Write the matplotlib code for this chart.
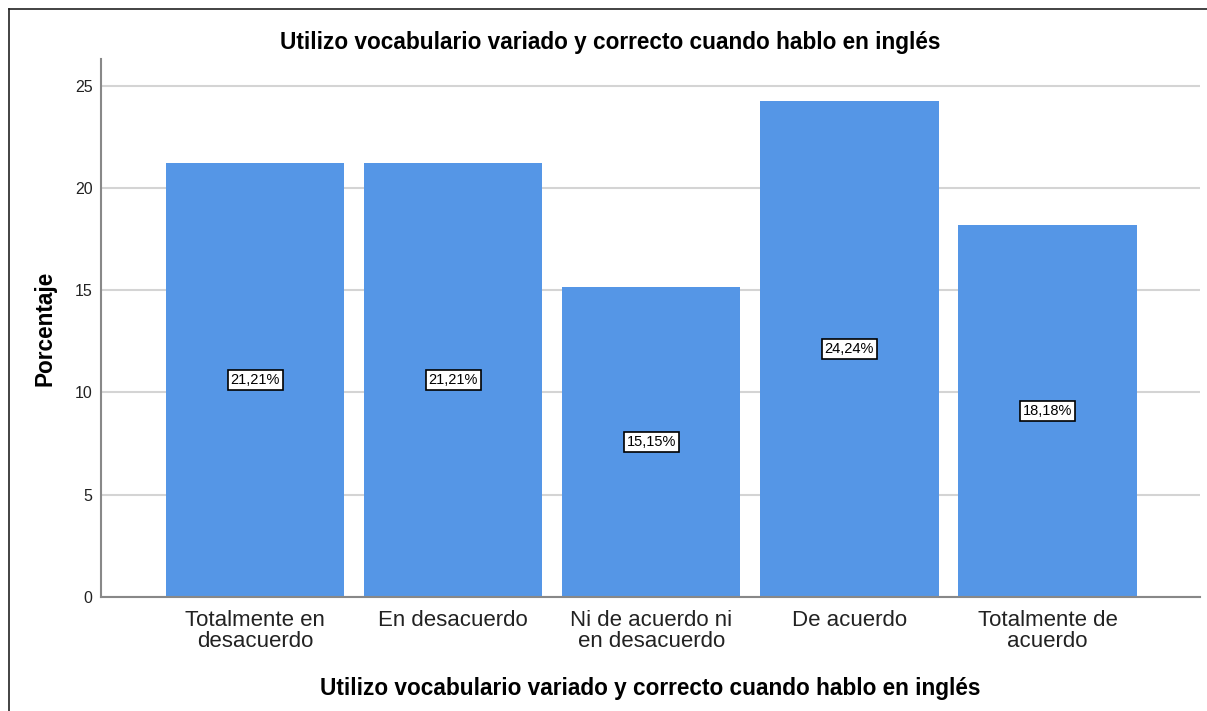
import numpy as np
import matplotlib.pyplot as plt
from matplotlib.lines import Line2D

plt.rcParams['font.family'] = ['Liberation Sans', 'DejaVu Sans']

categorias = ['Totalmente en\ndesacuerdo', 'En desacuerdo', 'Ni de acuerdo ni\nen desacuerdo',
              'De acuerdo', 'Totalmente de\nacuerdo']
porcentajes = [21.21, 21.21, 15.15, 24.24, 18.18]
titulo = 'Utilizo vocabulario variado y correcto cuando hablo en inglés'

fig = plt.figure(figsize=(12.07, 7.11), dpi=100)
ax = fig.add_axes([0.0837, 0.1603, 0.9105, 0.7567])

x = np.arange(len(categorias))
ax.bar(x, porcentajes, width=0.9, color='#5596E6', zorder=2)

for xi, v in zip(x, porcentajes):
    etiqueta = f'{v:.2f}%'.replace('.', ',')
    ax.text(xi, v / 2, etiqueta, ha='center', va='center', fontsize=10.5, zorder=3,
            bbox=dict(boxstyle='square,pad=0.2', fc='white', ec='black', lw=1.2))

ax.set_xlim(-0.778, 4.77)
ax.set_ylim(0, 26.3)
ax.set_yticks([0, 5, 10, 15, 20, 25])
ax.yaxis.grid(True, color='#d4d4d4', lw=1.5, zorder=0)
ax.set_axisbelow(True)
ax.set_xticks(x)
ax.set_xticklabels(categorias, fontsize=16, color='#222222', linespacing=1.05)
ax.tick_params(axis='x', length=0, pad=9)
ax.tick_params(axis='y', length=0, pad=6, labelsize=11.5, labelcolor='#222222')

for s in ['top', 'right']:
    ax.spines[s].set_visible(False)
for s in ['left', 'bottom']:
    ax.spines[s].set_color('#888888')
    ax.spines[s].set_linewidth(1.5)

# el título está centrado en la figura, no en los ejes
fig.text(610 / 1207, 1 - 43 / 711, titulo, fontsize=16.3, fontweight='bold',
         ha='center', va='center')
ax.set_xlabel(titulo, fontsize=16.3, fontweight='bold', labelpad=18)
ax.set_ylabel('Porcentaje', fontsize=16.3, fontweight='bold', labelpad=13)

# marco exterior (solo arriba e izquierda)
fig.add_artist(Line2D([9 / 1207, 1], [1 - 9 / 711, 1 - 9 / 711], color='#222222', lw=1.2,
                      transform=fig.transFigure))
fig.add_artist(Line2D([9 / 1207, 9 / 1207], [0, 1 - 9 / 711], color='#222222', lw=1.2,
                      transform=fig.transFigure))

fig.savefig('out.png', dpi=100)
